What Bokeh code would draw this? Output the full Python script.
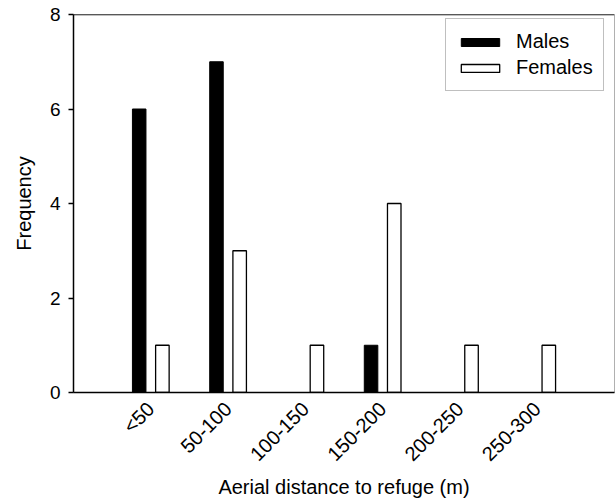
import math
from bokeh.plotting import figure
from bokeh.models import (FactorRange, Range1d, FixedTicker, Legend, LegendItem,
                          Span, ColumnDataSource)
from bokeh.transform import dodge
from bokeh.embed import file_html
from bokeh.resources import INLINE

categories = ["<50", "50-100", "100-150", "150-200", "200-250", "250-300"]
males = [6, 7, 0, 1, 0, 0]
females = [1, 3, 1, 4, 1, 1]
y_ticks = [0, 2, 4, 6, 8]
y_max = 8

FONT = "Liberation Sans"

source = ColumnDataSource(dict(cat=categories, males=males, females=females))

p = figure(
    x_range=FactorRange(*categories, range_padding=0.5, range_padding_units="absolute"),
    y_range=Range1d(0, y_max),
    width=615, height=500,
    output_backend="svg", toolbar_location=None,
    min_border_left=73, min_border_right=1, min_border_top=14, min_border_bottom=108,
)
p.background_fill_color = "white"
p.border_fill_color = "white"
p.outline_line_color = "#b0b0b0"
p.outline_line_width = 1
p.xgrid.visible = False
p.ygrid.visible = False

r_m = p.vbar(x=dodge("cat", -0.15, range=p.x_range), top="males", width=0.175,
             source=source, fill_color="black", line_color="black", line_width=1)
r_f = p.vbar(x=dodge("cat", 0.15, range=p.x_range), top="females", width=0.175,
             source=source, fill_color="white", line_color="black", line_width=1.3)

# top frame line
p.add_layout(Span(location=y_max, dimension="width", line_color="black", line_width=1.5))

# y axis
p.yaxis.ticker = FixedTicker(ticks=y_ticks)
p.yaxis.minor_tick_line_color = None
p.yaxis.major_tick_out = 5
p.yaxis.major_tick_in = 0
p.yaxis.major_tick_line_width = 1.5
p.yaxis.axis_line_width = 1.5
p.yaxis.axis_line_color = "black"
p.yaxis.major_label_standoff = 8
p.yaxis.major_label_text_font = FONT
p.yaxis.major_label_text_font_size = "19px"
p.yaxis.major_label_text_color = "black"
p.yaxis.axis_label = "Frequency"
p.yaxis.axis_label_text_font = FONT
p.yaxis.axis_label_text_font_size = "20px"
p.yaxis.axis_label_text_font_style = "normal"
p.yaxis.axis_label_text_color = "black"
p.yaxis.axis_label_standoff = 12

# x axis
p.xaxis.major_tick_line_color = None
p.xaxis.minor_tick_line_color = None
p.xaxis.axis_line_width = 1.5
p.xaxis.axis_line_color = "black"
p.xaxis.major_label_orientation = math.pi / 4
p.xaxis.major_label_standoff = 7
p.xaxis.major_label_text_font = FONT
p.xaxis.major_label_text_font_size = "20px"
p.xaxis.major_label_text_color = "black"
p.xaxis.axis_label = "Aerial distance to refuge (m)"
p.xaxis.axis_label_text_font = FONT
p.xaxis.axis_label_text_font_size = "20px"
p.xaxis.axis_label_text_font_style = "normal"
p.xaxis.axis_label_text_color = "black"
p.xaxis.axis_label_standoff = 0

legend = Legend(
    items=[LegendItem(label="Males", renderers=[r_m]),
           LegendItem(label="Females", renderers=[r_f])],
    location=(372, 301),
    margin=0, padding=10, spacing=1,
    glyph_width=48, glyph_height=10, label_height=25, label_standoff=12,
    label_text_font=FONT, label_text_font_size="20px", label_text_color="black",
    border_line_color="#808080", border_line_width=1,
    background_fill_color="white", background_fill_alpha=1,
)
p.add_layout(legend)

open("out.html", "w").write(file_html(p, INLINE))
